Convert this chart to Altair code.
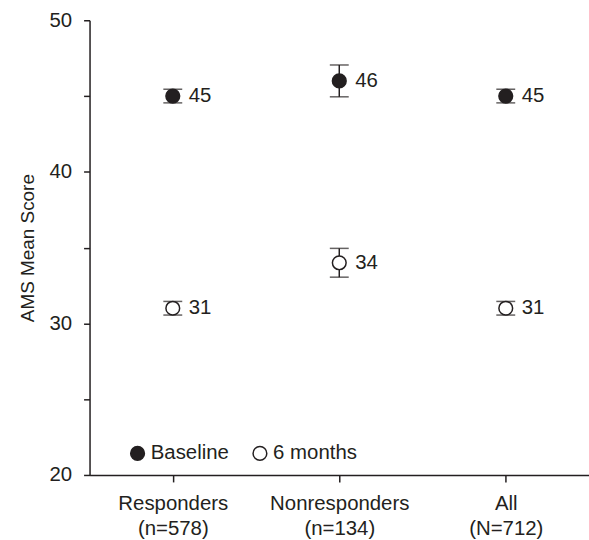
import altair as alt
import pandas as pd

groups = ["Responders\n(n=578)", "Nonresponders\n(n=134)", "All\n(N=712)"]
series = ["Baseline", "6 months"]
baseline_mean = [45, 46, 45]
baseline_err = [0.45, 1.05, 0.45]
month6_mean = [31, 34, 31]
month6_err = [0.45, 0.95, 0.45]

rows = []
for g, m, e in zip(groups, baseline_mean, baseline_err):
    rows.append({"group": g, "series": "Baseline", "mean": m, "lo": m - e, "hi": m + e})
for g, m, e in zip(groups, month6_mean, month6_err):
    rows.append({"group": g, "series": "6 months", "mean": m, "lo": m - e, "hi": m + e})
df = pd.DataFrame(rows)

INK = "#231f20"
FONT = "Liberation Sans"
FS = 20.5

x = alt.X("group:N", sort=groups, title=None,
          scale=alt.Scale(type="point", padding=0.5),
          axis=alt.Axis(labelExpr="split(datum.label, '\\n')", labelAngle=0,
                        labelFontSize=FS, labelLineHeight=25, labelPadding=12,
                        tickSize=7, labelColor=INK, domainColor=INK, tickColor=INK))
y = alt.Y("mean:Q", title="AMS Mean Score",
          scale=alt.Scale(domain=[20, 50], nice=False, zero=False),
          axis=alt.Axis(values=[20, 25, 30, 35, 40, 45, 50],
                        labelExpr="datum.value % 10 == 0 ? datum.label : ''",
                        labelFontSize=FS, tickSize=6, labelPadding=12,
                        titleFontSize=19, titleFontWeight="normal", titlePadding=12,
                        labelColor=INK, titleColor=INK, domainColor=INK, tickColor=INK))

base = alt.Chart(df)

rules = base.mark_rule(color=INK, strokeWidth=1.5).encode(x=x, y="lo:Q", y2="hi:Q")
cap_lo = base.mark_tick(color=INK, size=19, thickness=1.5, orient="horizontal").encode(x=x, y="lo:Q")
cap_hi = base.mark_tick(color=INK, size=19, thickness=1.5, orient="horizontal").encode(x=x, y="hi:Q")

points = base.mark_point(filled=True, size=190, stroke=INK, strokeWidth=1.5, opacity=1).encode(
    x=x, y=y,
    fill=alt.Fill("series:N", sort=series,
                  scale=alt.Scale(domain=series, range=[INK, "white"]),
                  legend=alt.Legend(title=None, orient="none", direction="horizontal",
                                    legendX=38, legendY=425,
                                    symbolType="circle", symbolSize=190,
                                    symbolStrokeColor=INK, symbolStrokeWidth=1.5,
                                    labelFontSize=FS, labelColor=INK, labelFont=FONT,
                                    labelOffset=3, columnPadding=20)),
)

labels = base.mark_text(align="left", baseline="middle", dx=16, fontSize=FS, color=INK, font=FONT).encode(
    x=x, y="mean:Q", text=alt.Text("mean:Q", format="d"))

chart = alt.layer(rules, cap_lo, cap_hi, points, labels).properties(
    width=502, height=457,
    autosize=alt.AutoSizeParams(type="none"),
    padding={"left": 90, "top": 19, "right": 0, "bottom": 64},
).configure_view(stroke=None).configure_axis(
    grid=False, labelFont=FONT, titleFont=FONT, domainWidth=1.5, tickWidth=1.5
)

chart.save("out.html", embed_options={"renderer": "svg", "actions": False})
